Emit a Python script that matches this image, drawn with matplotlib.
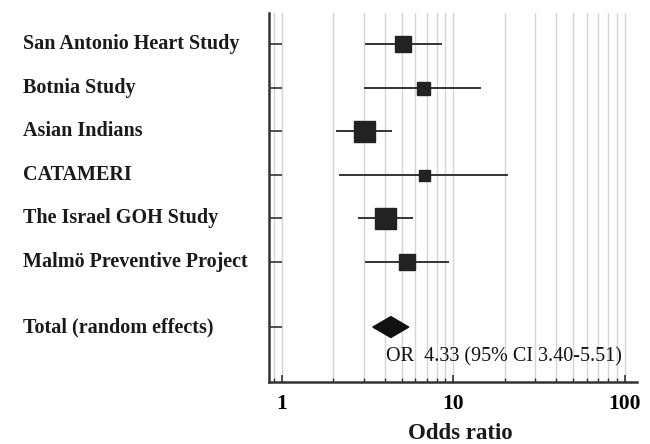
import matplotlib
matplotlib.use("Agg")
import matplotlib.pyplot as plt
import matplotlib.transforms as mtransforms

studies = ["San Antonio Heart Study", "Botnia Study", "Asian Indians", "CATAMERI",
           "The Israel GOH Study", "Malmö Preventive Project"]
odds = [5.12, 6.70, 3.03, 6.79, 4.00, 5.40]
lower = [3.10, 3.06, 2.09, 2.19, 2.82, 3.10]
upper = [8.49, 14.3, 4.32, 20.7, 5.73, 9.37]
weights = [16, 13, 21, 11, 21, 16]  # relative box size

total_label = "Total (random effects)"
total_or, total_lo, total_hi = 4.33, 3.40, 5.51

plt.rcParams['font.family'] = ['Liberation Serif', 'DejaVu Serif']

fig = plt.figure(figsize=(6.5, 4.44), dpi=100)
ax = fig.add_axes([0.4138, 0.1403, 0.5662, 0.8304])
ax.set_xscale('log')
ax.set_xlim(0.843, 118)

rows = list(range(len(studies)))
total_row = rows[-1] + 1.5
ax.set_ylim(7.756, -0.72)

# grid
ax.grid(True, which='both', axis='x', color='#d4d4d4', lw=1.0)
ax.set_axisbelow(True)

for y, o, lo, hi, w in zip(rows, odds, lower, upper, weights):
    ax.plot([lo, hi], [y, y], color='#333333', lw=1.4, zorder=3)
    ax.plot(o, y, marker='s', ms=w * 0.72, color='#222222', zorder=4)

h = 0.24
ax.fill([total_lo, total_or, total_hi, total_or],
        [total_row, total_row - h, total_row, total_row + h],
        color='#111111', zorder=4)

ax.text(4.06, 7.30, "OR  %.2f (95%% CI %.2f-%.2f)" % (total_or, total_lo, total_hi),
        fontsize=14.5, color='#111111', va='baseline', ha='left')

# labels on left
trans = mtransforms.blended_transform_factory(fig.transFigure, ax.transData)
for y, name in zip(rows + [total_row], studies + [total_label]):
    ax.text(23 / 650, y, name, transform=trans, fontsize=14.5, fontweight='bold',
            color='#1a1a1a', va='center', ha='left')

ax.set_yticks(rows + [total_row])
ax.set_yticklabels([])
ax.tick_params(axis='y', direction='in', length=9, width=1.2, color='#333333')

ax.set_xticks([1, 10, 100])
ax.set_xticklabels(['1', '10', '100'], fontsize=15.5, fontweight='bold')
ax.tick_params(axis='x', which='major', direction='in', length=5, width=1.2,
               color='#333333', pad=9)
ax.tick_params(axis='x', which='minor', direction='in', length=3, width=1.0,
               color='#333333')
fig.text(460 / 650, 1 - 433 / 444, "Odds ratio", fontsize=16.5, fontweight='bold',
         color='#1a1a1a', ha='center', va='center')

for s in ['top', 'right']:
    ax.spines[s].set_visible(False)
for s in ['left', 'bottom']:
    ax.spines[s].set_linewidth(1.8)
    ax.spines[s].set_color('#333333')

fig.savefig("out.png", dpi=100)
